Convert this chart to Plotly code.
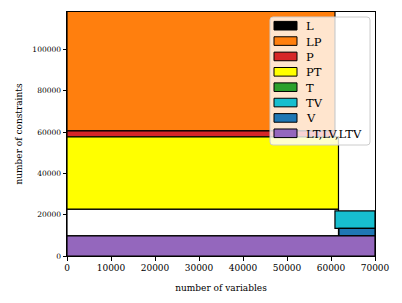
import plotly.graph_objects as go

# rectangles: name, x0, x1, y0, y1
names = ["L", "LP", "P", "PT", "T", "TV", "V", "LT,LV,LTV"]
colors = ["#000000", "#ff7f0e", "#d62728", "#ffff00", "#2ca02c", "#17becf", "#1f77b4", "#9467bd"]
x0s = [None, 0, 0, 0, None, 60900, 61800, 0]
x1s = [None, 60900, 60900, 61700, None, 70000, 70000, 70000]
y0s = [None, 60600, 57700, 22700, None, 13400, 9700, 0]
y1s = [None, 125000, 60600, 57700, None, 21800, 13400, 9700]

# unlabelled empty box
box_x = [0, 61700]
box_y = [9700, 22700]

xticks = [0, 10000, 20000, 30000, 40000, 50000, 60000, 70000]
yticks = [0, 20000, 40000, 60000, 80000, 100000]

fig = go.Figure()
fig.add_trace(go.Bar(x=[(box_x[0] + box_x[1]) / 2], y=[box_y[1] - box_y[0]], base=[box_y[0]],
                     width=[box_x[1] - box_x[0]], marker=dict(color="white", line=dict(color="black", width=1.2)),
                     showlegend=False, hoverinfo="skip"))
for n, c, a, b, lo, hi in zip(names, colors, x0s, x1s, y0s, y1s):
    if a is None:
        continue
    fig.add_trace(go.Bar(x=[(a + b) / 2], y=[hi - lo], base=[lo], width=[b - a], name=n,
                         showlegend=False,
                         marker=dict(color=c, line=dict(color="black", width=1.2))))

# plot area in pixels
L, R, T, B = 67, 375, 12, 256
W, H = R - L, B - T
def px(xp):
    return (xp - L) / W
def py(yp):
    return (B - yp) / H

serif = "DejaVu Serif, serif"

# manual legend (box, swatches, labels)
shapes = []
annotations = []
bx0, bx1, by0, by1, r = px(270), px(370), py(145), py(17), 3
rx, ry = r / W, r / H
path = (f"M{bx0+rx},{by0} L{bx1-rx},{by0} Q{bx1},{by0} {bx1},{by0+ry} "
        f"L{bx1},{by1-ry} Q{bx1},{by1} {bx1-rx},{by1} L{bx0+rx},{by1} "
        f"Q{bx0},{by1} {bx0},{by1-ry} L{bx0},{by0+ry} Q{bx0},{by0} {bx0+rx},{by0} Z")
shapes.append(dict(type="path", xref="paper", yref="paper", path=path,
                   fillcolor="rgba(255,255,255,0.8)", line=dict(color="#cccccc", width=1), layer="above"))
for i, (n, c) in enumerate(zip(names, colors)):
    cy = 25.7 + i * 15.37
    shapes.append(dict(type="rect", xref="paper", yref="paper",
                       x0=px(274), x1=px(297), y0=py(cy + 4.3), y1=py(cy - 4.3),
                       fillcolor=c, line=dict(color="black", width=1), layer="above"))
    annotations.append(dict(xref="paper", yref="paper", x=px(304), y=py(cy + 0.5), text=n,
                            showarrow=False, xanchor="left", yanchor="middle",
                            font=dict(family=serif, size=11.5, color="black")))

fig.update_layout(
    width=402, height=303, barmode="overlay",
    margin=dict(l=L, r=402 - R, t=T, b=303 - B, autoexpand=False),
    paper_bgcolor="white", plot_bgcolor="white",
    font=dict(family=serif, size=9, color="black"),
    shapes=shapes, annotations=annotations,
    xaxis=dict(range=[0, 70000], tickvals=xticks, ticktext=[str(v) for v in xticks],
               ticks="outside", ticklen=3.5, tickcolor="black", showgrid=False, zeroline=False,
               showline=True, linecolor="black", linewidth=1, mirror=True, automargin=False,
               title=dict(text="number of variables", standoff=12, font=dict(size=9)),
               tickfont=dict(size=9)),
    yaxis=dict(range=[0, 118100], tickvals=yticks, ticktext=[str(v) for v in yticks],
               ticks="outside", ticklen=3.5, tickcolor="black", showgrid=False, zeroline=False,
               showline=True, linecolor="black", linewidth=1, mirror=True, automargin=False,
               title=dict(text="number of constraints", standoff=8, font=dict(size=9)),
               tickfont=dict(size=7.5)),
)
fig.write_html("out.html", config={"displayModeBar": False},
               post_script="document.body.style.margin='0';")
